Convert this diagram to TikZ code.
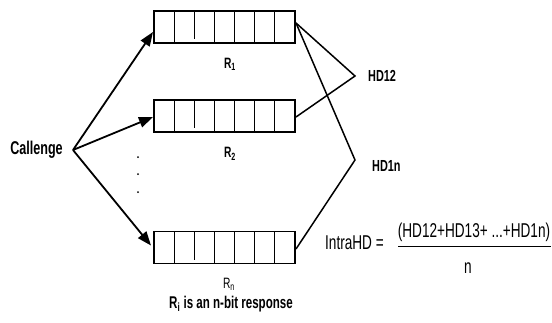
\documentclass[tikz,border=0pt]{standalone}
\usepackage{fontspec}
\setmainfont[FakeStretch=0.68]{Liberation Sans}
\usetikzlibrary{arrows.meta,calc}
\begin{document}
\begin{tikzpicture}[x=1pt,y=-1pt,
  reg/.style={draw, line width=1.6pt, minimum width=141pt, minimum height=32pt, inner sep=0pt, outer sep=0pt},
  divider/.style={line width=1.1pt},
  arr/.style={line width=1.8pt, -{Triangle[length=14pt,width=10.5pt]}},
  hd/.style={line width=1.5pt},
  blbl/.style={font=\fontsize{16}{18}\selectfont\bfseries, inner sep=0pt},
  rlbl/.style={font=\fontsize{15}{17}\selectfont, inner sep=0pt},
  eq/.style={font=\fontsize{20}{22}\selectfont, inner sep=0pt},
  dot/.style={fill, circle, inner sep=0pt, minimum size=2pt}]
\useasboundingbox (0,0) rectangle (552,322);

% registers
\node[reg] (r1) at (224.5,27) {};
\node[reg] (r2) at (224.5,116) {};
\node[reg] (rn) at (224.5,247.5) {};
\foreach \r in {r1,r2,rn}{
  \foreach \i in {1,3,4,5,6}{
    \draw[divider] (\r.north west) ++(\i*20.14,0) -- ++(0,32);
  }
  \draw[divider] (\r.north west) ++(2*20.14,0) -- ++(0,28);
}

% register labels
\node[rlbl, font=\fontsize{15}{17}\selectfont\bfseries] (l1) at (230,64) {R\textsubscript{1}};
\node[rlbl, font=\fontsize{15}{17}\selectfont\bfseries] (l2) at (230,154) {R\textsubscript{2}};
\node[rlbl] (ln) at (229,284) {R\textsubscript{n}};
\node[blbl, font=\fontsize{17}{19}\selectfont\bfseries] (note) at (231,304) {R\textsubscript{i} is an n-bit response};

% challenge
\node[blbl, font=\fontsize{18.5}{20}\selectfont\bfseries] (cal) at (36.5,150) {Callenge};
\coordinate (c) at (73,150);
\draw[arr] (c) -- ($(r1.west)+(-1,5)$);
\draw[arr] (c) -- ($(r2.west)+(-1,1)$);
\draw[arr] (c) -- ($(rn.west)+(-3,-2)$);

% dots
\node[dot] (d1) at (138,157) {};
\node[dot] (d2) at (138,174) {};
\node[dot] (d3) at (138,192) {};

% Hamming distance lines
\coordinate (h12) at (355,76);
\coordinate (h1n) at (355,160);
\coordinate (s1) at ($(r1.east)+(1,-4)$);
\draw[hd] (s1) -- (h12) -- ($(r2.east)+(1,1)$);
\draw[hd] (s1) -- (h1n) -- ($(rn.east)+(1,1.5)$);
\node[blbl, anchor=west] (t12) at (368,76) {HD12};
\node[blbl, anchor=west] (t1n) at (372,166) {HD1n};

% formula
\node[eq] (intra) at (354.5,243) {IntraHD =};
\node[eq] (num) at (474,232) {(HD12+HD13+ ...+HD1n)};
\node[eq] (den) at (468,268) {n};
\coordinate (fa) at (398,246.5);
\coordinate (fb) at (551,246.5);
\draw[line width=1.8pt] (fa) -- (fb);
\end{tikzpicture}
\end{document}
